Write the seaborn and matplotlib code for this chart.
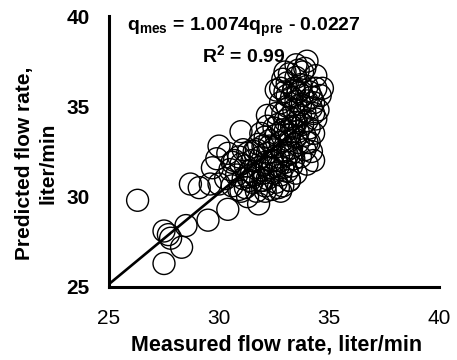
import numpy as np
import pandas as pd
import matplotlib
matplotlib.use("Agg")
import matplotlib.pyplot as plt
import seaborn as sns

# ---- data ----
measured = [26.3, 27.5, 27.8, 27.5, 28.3, 28.5, 27.7, 29.5, 30.4, 28.7, 29.1, 29.7, 29.6, 29.9, 30.0, 30.0, 31.0, 30.9,
            31.8, 32.1, 32.2, 32.2, 32.6, 32.9, 33.5, 34.0, 34.4, 34.3, 34.1, 34.0, 33.2, 32.8, 31.3,
            30.3, 30.5, 30.6, 30.8, 30.9, 31.0, 31.1, 31.2, 31.3, 31.4, 31.5, 31.5, 31.6, 31.7, 31.7, 31.8, 31.9, 31.9,
            32.0, 32.0, 32.1, 32.1, 32.2, 32.2, 32.3, 32.3, 32.4, 32.4, 32.5, 32.5, 32.6, 32.6, 32.7, 32.7, 32.8, 32.8,
            32.9, 32.9, 33.0, 33.0, 33.1, 33.1, 33.2, 33.2, 33.3, 33.3, 33.4, 33.4, 33.5, 33.5, 31.2, 31.6, 32.0, 32.4,
            31.8, 32.1, 32.6, 32.9, 31.4, 31.0, 30.7, 31.3, 32.3, 32.7, 33.0, 32.5, 31.9, 30.4, 30.6, 31.1,
            32.7, 32.8, 32.9, 33.0, 33.0, 33.1, 33.1, 33.2, 33.2, 33.3, 33.3, 33.4, 33.4, 33.5, 33.5, 33.5, 33.6, 33.6,
            33.7, 33.7, 33.7, 33.8, 33.8, 33.8, 33.9, 33.9, 34.0, 34.0, 34.0, 34.1, 34.1, 34.2, 34.2, 34.3, 34.3, 34.4,
            34.5, 34.6, 33.2, 33.6, 33.9, 34.2, 33.3, 33.7, 34.0, 32.9, 33.4, 33.6, 33.9, 33.1, 34.4, 32.8, 33.0, 32.6,
            34.7, 34.3]
predicted = [29.8, 28.1, 27.7, 26.3, 27.2, 28.4, 27.9, 28.7, 29.3, 30.7, 30.5, 31.6, 30.7, 32.1, 30.7, 32.8, 33.6, 32.2,
             29.6, 30.3, 34.5, 33.9, 35.9, 36.5, 37.3, 37.5, 36.0, 34.6, 33.0, 31.8, 30.9, 30.3, 30.0,
             31.0, 31.5, 30.6, 31.2, 30.4, 31.8, 31.0, 30.5, 32.4, 31.4, 30.8, 32.0, 31.2, 30.3, 32.6, 31.6, 30.9, 32.2,
             31.3, 32.8, 30.6, 31.9, 32.4, 31.0, 33.1, 31.6, 30.4, 32.0, 32.7, 31.3, 33.4, 30.8, 32.2, 31.7, 33.0, 31.2,
             32.5, 30.6, 31.9, 33.6, 32.3, 31.4, 33.1, 30.9, 32.7, 31.7, 33.8, 32.1, 31.3, 33.3, 31.7, 32.5, 30.9, 31.6,
             32.9, 33.3, 32.0, 31.6, 30.9, 30.3, 32.0, 31.1, 32.8, 30.5, 32.5, 33.8, 33.5, 32.4, 31.9, 32.6,
             34.0, 35.2, 34.6, 35.8, 34.2, 36.3, 35.0, 34.4, 36.8, 35.5, 33.9, 36.0, 34.8, 35.3, 36.6, 34.1, 35.8, 33.6,
             34.5, 36.2, 35.1, 34.0, 35.6, 36.9, 34.7, 33.4, 35.3, 36.1, 34.2, 35.8, 33.8, 34.9, 35.5, 33.5, 35.2, 34.3,
             34.8, 35.6, 33.4, 33.0, 32.6, 32.5, 32.4, 32.2, 33.0, 33.7, 35.9, 37.0, 37.1, 35.6, 36.7, 36.0, 36.9, 34.6,
             36.0, 32.0]

slope = 1.0074
intercept = -0.0227
fit_range = [25, 34]

x_ticks = [25, 30, 35, 40]
y_ticks = [25, 30, 35, 40]

df = pd.DataFrame({"measured": measured, "predicted": predicted})
fit_x = np.array(fit_range, dtype=float)
fit_df = pd.DataFrame({"x": fit_x, "y": slope * fit_x + intercept})

# ---- style ----
sns.set_style("white")
plt.rcParams["font.family"] = ["Liberation Sans", "DejaVu Sans"]
plt.rcParams["mathtext.fontset"] = "custom"
plt.rcParams["mathtext.rm"] = "Liberation Sans:bold"
plt.rcParams["mathtext.bf"] = "Liberation Sans:bold"
plt.rcParams["mathtext.it"] = "Liberation Sans:bold"
for k in ["text.color", "axes.labelcolor", "xtick.color", "ytick.color"]:
    plt.rcParams[k] = "black"

fig = plt.figure(figsize=(4.57, 3.60), dpi=100)
ax = fig.add_axes([109 / 457, 1 - 287 / 360, 330 / 457, 271 / 360])

sns.lineplot(data=fit_df, x="x", y="y", color="black", linewidth=1.9, ax=ax, zorder=1)
sns.scatterplot(data=df, x="measured", y="predicted", s=250, facecolor="none",
                edgecolor="black", linewidth=1.0, ax=ax, zorder=2)
for c in ax.collections:
    c.set_facecolor("none")
    c.set_edgecolor("black")

ax.set_xlim(25, 40)
ax.set_ylim(25, 40)
ax.set_xticks(x_ticks)
ax.set_yticks(y_ticks)
ax.set_xticklabels([str(t) for t in x_ticks], fontsize=15)
ax.set_yticklabels([str(t) for t in y_ticks], fontsize=15, fontweight="bold")

for s in ["top", "right"]:
    ax.spines[s].set_visible(False)
for s in ["left", "bottom"]:
    ax.spines[s].set_linewidth(2.2)
    ax.spines[s].set_color("black")
    ax.spines[s].set_zorder(5)

ax.tick_params(axis="x", direction="inout", length=6, width=2, pad=13, colors="black")
ax.tick_params(axis="y", direction="out", length=4, width=2, pad=10, colors="black")

ax.set_xlabel("Measured flow rate, liter/min", fontsize=15.5, fontweight="bold")
ax.set_ylabel("Predicted flow rate,\nliter/min", fontsize=15, fontweight="bold", linespacing=1.35)
ax.xaxis.set_label_coords(0.509, -0.175)
ax.yaxis.set_label_coords(-0.155, 0.456)

ax.text(31.11, 39.35, r"q$_{mes}$ = 1.0074q$_{pre}$ - 0.0227", fontsize=14, fontweight="bold",
        ha="center", va="center", color="black")
ax.text(31.11, 37.85, r"R$^{2}$ = 0.99", fontsize=14, fontweight="bold",
        ha="center", va="center", color="black")

fig.savefig("out.png", dpi=100)
